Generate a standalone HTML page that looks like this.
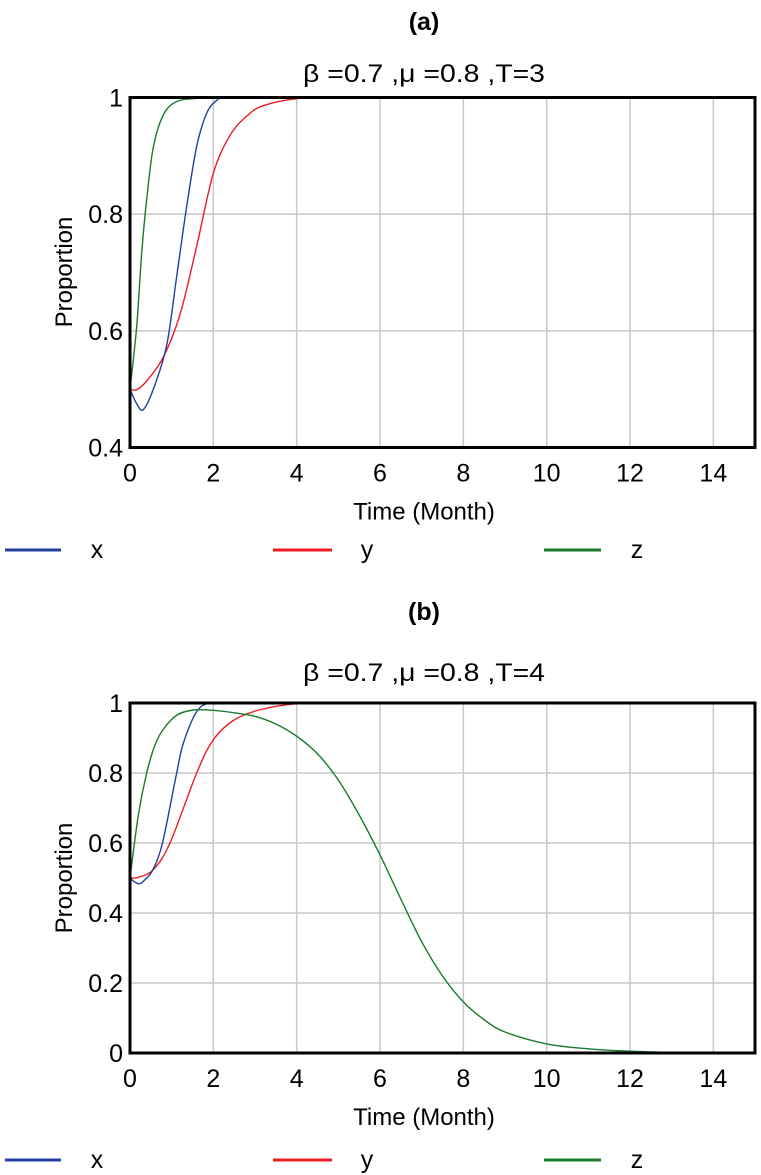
<!DOCTYPE html>
<html><head><meta charset="utf-8"><style>
html,body{margin:0;padding:0;background:#fff;}
svg{display:block;font-family:"Liberation Sans",Arial,sans-serif;}
</style></head><body>
<svg id="fig" width="761" height="1175" viewBox="0 0 761 1175" xmlns="http://www.w3.org/2000/svg">
<text x="424" y="30" font-size="25" font-weight="bold" text-anchor="middle">(a)</text>
<text x="424" y="82" font-size="25" text-anchor="middle" textLength="242" lengthAdjust="spacingAndGlyphs">β =0.7 ,μ =0.8 ,T=3</text>
<text x="424" y="620" font-size="25" font-weight="bold" text-anchor="middle">(b)</text>
<text x="424" y="681" font-size="25" text-anchor="middle" textLength="242" lengthAdjust="spacingAndGlyphs">β =0.7 ,μ =0.8 ,T=4</text>
<g id="ga"></g>
<g id="gb"></g>
</svg>
<script>
const xTicks = [0,2,4,6,8,10,12,14];
const aYTicks = [0.4,0.6,0.8,1];
const aYLabels = ["0.4","0.6","0.8","1"];
const aTimeX = [0,0.16,0.32,0.56,0.88,1.12,1.36,1.6,1.84,2.08,2.32,3,15];
const aValX = [0.5,0.475,0.465,0.5,0.575,0.693,0.813,0.916,0.973,0.995,1,1,1];
const aTimeY = [0,0.16,0.4,0.8,1.2,1.6,2.0,2.4,2.8,3.2,4,5,15];
const aValY = [0.5,0.499,0.514,0.555,0.628,0.745,0.87,0.935,0.968,0.986,0.998,1,1];
const aTimeZ = [0,0.16,0.28,0.4,0.56,0.8,1.12,1.68,2.5,15];
const aValZ = [0.5,0.607,0.733,0.825,0.915,0.97,0.993,0.999,1,1];

const bYTicks = [0,0.2,0.4,0.6,0.8,1];
const bYLabels = ["0","0.2","0.4","0.6","0.8","1"];
const bTimeX = [0,0.12,0.24,0.4,0.56,0.78,1.12,1.28,1.6,1.92,2.5,15];
const bValX = [0.5,0.488,0.484,0.5,0.526,0.6,0.8,0.885,0.975,1,1,1];
const bTimeY = [0,0.2,0.56,0.96,1.6,2.0,2.48,3.1,4,5,15];
const bValY = [0.5,0.502,0.524,0.6,0.8,0.895,0.95,0.98,0.998,1,1];
const bTimeZ = [0,0.2,0.4,0.6,0.8,1.12,1.52,2,2.5,3,3.5,4,4.5,5,5.5,6,6.5,7,7.5,8,8.5,9,10,11,12,13,15];
const bValZ = [0.5,0.68,0.8,0.88,0.925,0.965,0.98,0.979,0.972,0.962,0.94,0.905,0.855,0.78,0.68,0.566,0.44,0.318,0.22,0.146,0.095,0.06,0.026,0.012,0.005,0.002,0.001];

const NS="http://www.w3.org/2000/svg";
function mk(p,tag,at){const e=document.createElementNS(NS,tag);for(const k in at)e.setAttribute(k,at[k]);p.appendChild(e);return e;}
function smooth(pts){let d="M"+pts[0][0]+","+pts[0][1];for(let i=0;i<pts.length-1;i++){const p0=pts[Math.max(0,i-1)],p1=pts[i],p2=pts[i+1],p3=pts[Math.min(pts.length-1,i+2)];const c1x=p1[0]+(p2[0]-p0[0])/6,c1y=p1[1]+(p2[1]-p0[1])/6,c2x=p2[0]-(p3[0]-p1[0])/6,c2y=p2[1]-(p3[1]-p1[1])/6;d+=" C"+c1x.toFixed(2)+","+c1y.toFixed(2)+" "+c2x.toFixed(2)+","+c2y.toFixed(2)+" "+p2[0].toFixed(2)+","+p2[1].toFixed(2);}return d;}
function draw(g,top,bot,ymin,ymax,yTicks,yLabels,series,legY,ylabY){
  const L=130,R=755;
  const xs=t=>L+(R-L)*t/15, ys=v=>bot-(bot-top)*(v-ymin)/(ymax-ymin);
  xTicks.forEach(t=>{if(t>0){const l=mk(g,"line",{x1:xs(t),x2:xs(t),y1:top,y2:bot,stroke:"#c8c8c8","stroke-width":1.5});
    
    }
    const tx=mk(g,"text",{x:xs(t),y:bot+34,"font-size":25,"text-anchor":"middle"});tx.textContent=t;
    
    });
  yTicks.forEach((v,i)=>{if(v>ymin&&v<ymax){const l=mk(g,"line",{x1:L,x2:R,y1:ys(v),y2:ys(v),stroke:"#c8c8c8","stroke-width":1.5});
    
    }
    const tx=mk(g,"text",{x:123,y:ys(v)+9,"font-size":25,"text-anchor":"end"});tx.textContent=yLabels[i];
    
    });
  series.forEach(s=>{const pts=s.t.map((t,i)=>[xs(t),ys(s.v[i])]);
    const p=mk(g,"path",{d:smooth(pts),fill:"none",stroke:s.c,"stroke-width":1.4});
    
    });
  const fr=mk(g,"rect",{x:L,y:top,width:R-L,height:bot-top,fill:"none",stroke:"#000","stroke-width":3});
  
  
  const xl=mk(g,"text",{x:424,y:bot+72,"font-size":24,"text-anchor":"middle"});xl.textContent="Time (Month)";
  
  
  const yx=L-58;
  const yl=mk(g,"text",{x:yx,y:ylabY,"font-size":24,"text-anchor":"middle",transform:"rotate(-90 "+yx+" "+ylabY+")"});yl.textContent="Proportion";
  
  
  const leg=[[5,61,97,"x","#2040a0"],[273,332,367,"y","#ee1c24"],[544,601,637,"z","#1a7a2e"]];
  leg.forEach(e=>{const ln=mk(g,"line",{x1:e[0],x2:e[1],y1:legY,y2:legY,stroke:e[4],"stroke-width":3});
    
    
    const t=mk(g,"text",{x:e[2],y:legY+8,"font-size":25,"text-anchor":"middle"});t.textContent=e[3];
    
    });
}
draw(document.getElementById("ga"),97.5,447.5,0.4,1,aYTicks,aYLabels,
 [{n:"y",t:aTimeY,v:aValY,c:"#ee1c24"},{n:"x",t:aTimeX,v:aValX,c:"#2040a0"},{n:"z",t:aTimeZ,v:aValZ,c:"#1a7a2e"}],550,272);
draw(document.getElementById("gb"),703,1053,0,1,bYTicks,bYLabels,
 [{n:"y",t:bTimeY,v:bValY,c:"#ee1c24"},{n:"x",t:bTimeX,v:bValX,c:"#2040a0"},{n:"z",t:bTimeZ,v:bValZ,c:"#1a7a2e"}],1160,878);
</script>
</body></html>
